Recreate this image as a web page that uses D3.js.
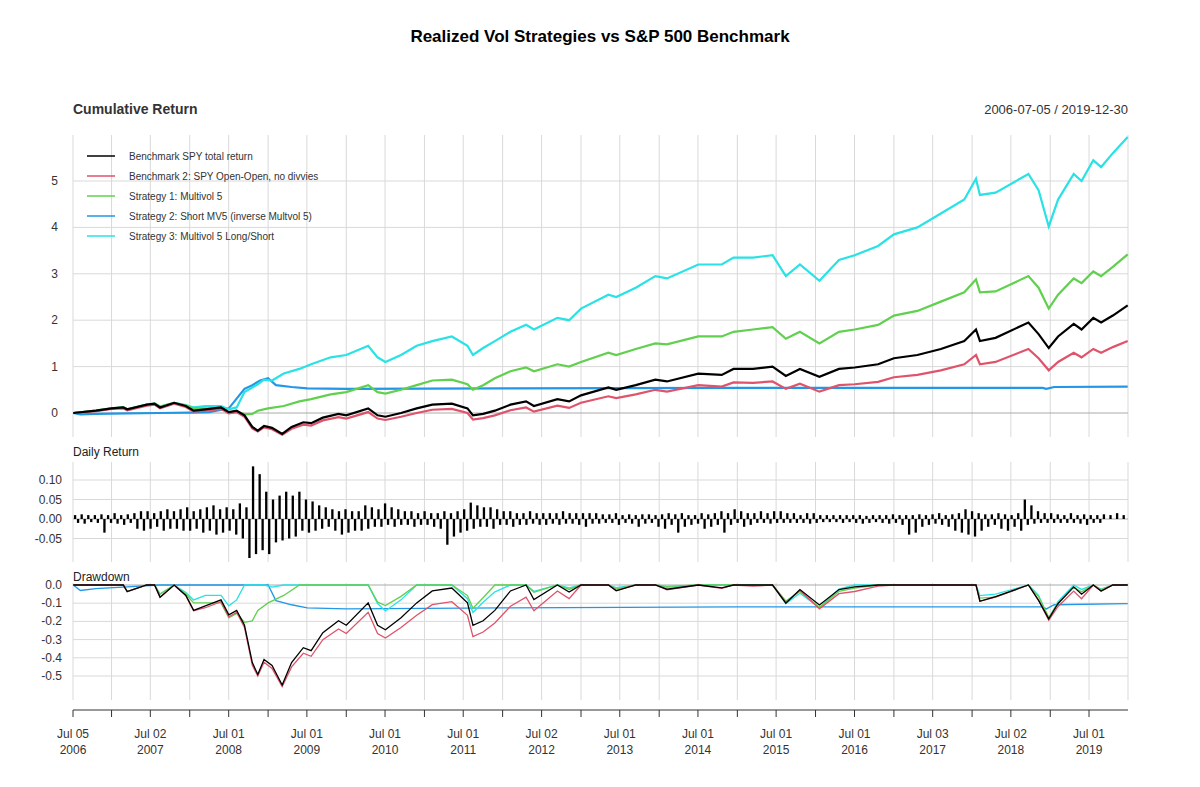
<!DOCTYPE html><html><head><meta charset="utf-8"><script src="https://cdn.jsdelivr.net/npm/d3@7"></script>
<style>body{margin:0;background:#fff}text{font-family:"Liberation Sans",Arial,sans-serif}</style></head><body>
<svg id="c" width="1200" height="787"></svg>
<script>
const seriesNames=["Benchmark SPY total return","Benchmark 2: SPY Open-Open, no divvies","Strategy 1: Multivol 5","Strategy 2: Short MV5 (inverse Multvol 5)","Strategy 3: Multivol 5 Long/Short"];
const colors=["#000000","#DF536B","#61D04F","#2297E6","#28E2E5"];
// cumulative return points [decimal year, value]
const spy=[[2006.51,0],[2006.8,0.05],[2007.0,0.1],[2007.15,0.12],[2007.2,0.08],[2007.45,0.18],[2007.55,0.2],[2007.62,0.12],[2007.8,0.22],[2007.95,0.15],[2008.05,0.05],[2008.2,0.08],[2008.4,0.12],[2008.5,0.02],[2008.6,0.05],[2008.7,-0.05],[2008.8,-0.3],[2008.87,-0.38],[2008.95,-0.28],[2009.05,-0.32],[2009.18,-0.45],[2009.3,-0.3],[2009.45,-0.2],[2009.55,-0.22],[2009.7,-0.1],[2009.9,-0.02],[2010.0,-0.05],[2010.28,0.1],[2010.4,-0.05],[2010.5,-0.08],[2010.7,0.0],[2010.9,0.1],[2011.1,0.18],[2011.35,0.2],[2011.55,0.1],[2011.62,-0.05],[2011.75,-0.02],[2011.9,0.05],[2012.1,0.18],[2012.3,0.25],[2012.4,0.15],[2012.7,0.3],[2012.85,0.25],[2013.0,0.38],[2013.35,0.55],[2013.45,0.5],[2013.7,0.6],[2013.95,0.72],[2014.1,0.68],[2014.5,0.85],[2014.8,0.82],[2014.95,0.95],[2015.2,0.95],[2015.45,1.0],[2015.62,0.8],[2015.8,0.95],[2016.05,0.78],[2016.3,0.95],[2016.5,0.98],[2016.8,1.05],[2017.0,1.18],[2017.3,1.25],[2017.6,1.38],[2017.9,1.55],[2018.05,1.8],[2018.1,1.55],[2018.3,1.62],[2018.72,1.95],[2018.85,1.7],[2018.98,1.4],[2019.1,1.65],[2019.3,1.92],[2019.4,1.8],[2019.55,2.05],[2019.65,1.95],[2019.8,2.1],[2019.99,2.32]];
const spyOO=[[2006.51,0],[2006.8,0.04],[2007.0,0.09],[2007.15,0.1],[2007.2,0.06],[2007.45,0.16],[2007.55,0.18],[2007.62,0.1],[2007.8,0.2],[2007.95,0.13],[2008.05,0.03],[2008.2,0.05],[2008.4,0.09],[2008.5,-0.01],[2008.6,0.02],[2008.7,-0.08],[2008.8,-0.33],[2008.87,-0.4],[2008.95,-0.31],[2009.05,-0.35],[2009.18,-0.47],[2009.3,-0.34],[2009.45,-0.25],[2009.55,-0.27],[2009.7,-0.16],[2009.9,-0.09],[2010.0,-0.12],[2010.28,0.02],[2010.4,-0.12],[2010.5,-0.15],[2010.7,-0.08],[2010.9,0.0],[2011.1,0.07],[2011.35,0.09],[2011.55,0.0],[2011.62,-0.14],[2011.75,-0.11],[2011.9,-0.05],[2012.1,0.06],[2012.3,0.12],[2012.4,0.03],[2012.7,0.16],[2012.85,0.11],[2013.0,0.22],[2013.35,0.36],[2013.45,0.32],[2013.7,0.4],[2013.95,0.5],[2014.1,0.46],[2014.5,0.6],[2014.8,0.57],[2014.95,0.66],[2015.2,0.65],[2015.45,0.68],[2015.62,0.52],[2015.8,0.63],[2016.05,0.46],[2016.3,0.6],[2016.5,0.62],[2016.8,0.67],[2017.0,0.77],[2017.3,0.82],[2017.6,0.92],[2017.9,1.05],[2018.05,1.25],[2018.1,1.05],[2018.3,1.1],[2018.72,1.38],[2018.85,1.18],[2018.98,0.92],[2019.1,1.1],[2019.3,1.3],[2019.4,1.2],[2019.55,1.38],[2019.65,1.3],[2019.8,1.42],[2019.99,1.55]];
const mv5=[[2006.51,0],[2006.8,0.05],[2007.0,0.1],[2007.15,0.12],[2007.2,0.08],[2007.45,0.18],[2007.55,0.2],[2007.62,0.14],[2007.8,0.22],[2007.95,0.16],[2008.05,0.1],[2008.2,0.1],[2008.4,0.1],[2008.5,0.0],[2008.6,0.03],[2008.7,-0.03],[2008.8,-0.02],[2008.87,0.05],[2009.0,0.1],[2009.2,0.15],[2009.4,0.25],[2009.55,0.3],[2009.8,0.4],[2010.0,0.45],[2010.28,0.6],[2010.4,0.45],[2010.5,0.42],[2010.7,0.5],[2010.9,0.6],[2011.1,0.7],[2011.35,0.72],[2011.55,0.62],[2011.62,0.5],[2011.75,0.6],[2011.9,0.75],[2012.1,0.9],[2012.3,0.98],[2012.4,0.9],[2012.7,1.05],[2012.85,1.0],[2013.0,1.1],[2013.35,1.3],[2013.45,1.25],[2013.7,1.38],[2013.95,1.5],[2014.1,1.48],[2014.5,1.65],[2014.8,1.65],[2014.95,1.75],[2015.2,1.8],[2015.45,1.85],[2015.62,1.6],[2015.8,1.75],[2016.05,1.5],[2016.3,1.75],[2016.5,1.8],[2016.8,1.9],[2017.0,2.1],[2017.3,2.2],[2017.6,2.4],[2017.9,2.6],[2018.05,2.88],[2018.1,2.6],[2018.3,2.62],[2018.72,2.95],[2018.85,2.7],[2018.98,2.25],[2019.1,2.55],[2019.3,2.9],[2019.4,2.8],[2019.55,3.05],[2019.65,2.95],[2019.8,3.15],[2019.99,3.42]];
const shortMv5=[[2006.51,0],[2006.6,-0.03],[2006.8,-0.02],[2007.2,-0.01],[2007.6,0.0],[2008.0,0.01],[2008.25,0.02],[2008.5,0.1],[2008.7,0.52],[2008.8,0.6],[2008.9,0.7],[2009.0,0.75],[2009.1,0.6],[2009.3,0.56],[2009.5,0.53],[2010.0,0.52],[2012.0,0.53],[2015.0,0.54],[2018.9,0.54],[2018.95,0.52],[2019.05,0.56],[2019.99,0.57]];
const mv5LS=[[2006.51,0],[2006.8,0.05],[2007.0,0.1],[2007.15,0.12],[2007.2,0.08],[2007.45,0.18],[2007.55,0.2],[2007.62,0.14],[2007.8,0.22],[2007.95,0.17],[2008.05,0.12],[2008.2,0.15],[2008.4,0.15],[2008.5,0.08],[2008.6,0.12],[2008.7,0.45],[2008.8,0.55],[2008.87,0.62],[2008.95,0.72],[2009.05,0.7],[2009.2,0.85],[2009.4,0.95],[2009.55,1.05],[2009.8,1.2],[2010.0,1.25],[2010.28,1.45],[2010.4,1.2],[2010.5,1.1],[2010.7,1.25],[2010.9,1.45],[2011.1,1.55],[2011.35,1.65],[2011.55,1.45],[2011.62,1.25],[2011.75,1.4],[2011.9,1.55],[2012.1,1.75],[2012.3,1.9],[2012.4,1.8],[2012.7,2.05],[2012.85,2.0],[2013.0,2.25],[2013.35,2.55],[2013.45,2.5],[2013.7,2.7],[2013.95,2.95],[2014.1,2.9],[2014.5,3.2],[2014.8,3.2],[2014.95,3.35],[2015.2,3.35],[2015.45,3.4],[2015.62,2.95],[2015.8,3.2],[2016.05,2.85],[2016.3,3.3],[2016.5,3.4],[2016.8,3.6],[2017.0,3.85],[2017.3,4.0],[2017.6,4.3],[2017.9,4.6],[2018.05,5.05],[2018.1,4.7],[2018.3,4.75],[2018.72,5.15],[2018.85,4.8],[2018.98,4.02],[2019.1,4.6],[2019.3,5.15],[2019.4,5.0],[2019.55,5.45],[2019.65,5.3],[2019.8,5.6],[2019.99,5.95]];
const allSeries=[spy,spyOO,mv5,shortMv5,mv5LS];
// monthly daily-return extremes, Jul 2006 .. Dec 2019
const dailyUp=[.01,.012,.01,.01,.012,.01,.015,.01,.012,.015,.02,.02,.015,.02,.025,.02,.025,.03,.02,.025,.03,.035,.025,.03,.025,.04,.03,.135,.115,.07,.05,.06,.07,.06,.07,.05,.045,.035,.03,.025,.02,.025,.02,.02,.035,.03,.025,.04,.03,.025,.02,.02,.015,.02,.015,.015,.02,.015,.02,.025,.042,.035,.03,.03,.025,.02,.02,.015,.015,.02,.015,.015,.015,.015,.02,.015,.015,.015,.015,.015,.012,.012,.015,.01,.012,.01,.012,.012,.01,.012,.015,.012,.015,.01,.01,.015,.012,.015,.02,.015,.025,.02,.015,.015,.02,.015,.02,.02,.015,.015,.01,.015,.015,.01,.01,.01,.01,.01,.01,.01,.008,.01,.01,.01,.012,.01,.01,.01,.012,.01,.012,.015,.01,.012,.015,.025,.02,.015,.012,.012,.015,.012,.01,.015,.05,.035,.02,.015,.015,.012,.01,.015,.01,.012,.01,.01,.012,.01,.015,.01];
const dailyDn=[-.01,-.012,-.008,-.01,-.035,-.01,-.012,-.015,-.01,-.025,-.03,-.025,-.02,-.03,-.025,-.025,-.03,-.03,-.025,-.035,-.03,-.04,-.035,-.03,-.04,-.05,-.1,-.09,-.08,-.09,-.06,-.055,-.05,-.045,-.03,-.035,-.03,-.025,-.02,-.03,-.04,-.035,-.03,-.03,-.025,-.02,-.02,-.015,-.02,-.015,-.015,-.02,-.015,-.015,-.02,-.025,-.066,-.045,-.035,-.03,-.025,-.02,-.02,-.025,-.015,-.015,-.02,-.015,-.015,-.012,-.015,-.015,-.012,-.015,-.012,-.012,-.015,-.02,-.012,-.012,-.01,-.01,-.015,-.01,-.012,-.02,-.012,-.01,-.02,-.025,-.015,-.035,-.02,-.015,-.012,-.025,-.02,-.015,-.035,-.015,-.01,-.02,-.015,-.01,-.01,-.012,-.01,-.01,-.01,-.01,-.01,-.012,-.01,-.008,-.008,-.008,-.01,-.008,-.01,-.012,-.01,-.008,-.01,-.012,-.01,-.015,-.04,-.035,-.02,-.015,-.012,-.015,-.02,-.03,-.035,-.04,-.045,-.03,-.02,-.015,-.025,-.03,-.02,-.03,-.015,-.012,-.01,-.01,-.01,-.01,-.01,-.01,-.012,-.015,-.01,-.01];
const xLabels=[["Jul 05","2006"],["Jul 02","2007"],["Jul 01","2008"],["Jul 01","2009"],["Jul 01","2010"],["Jul 01","2011"],["Jul 02","2012"],["Jul 01","2013"],["Jul 01","2014"],["Jul 01","2015"],["Jul 01","2016"],["Jul 03","2017"],["Jul 02","2018"],["Jul 01","2019"]];

const dy=y=>{const yr=Math.floor(y);return new Date(yr,0,1).getTime()+(y-yr)*365.25*864e5;};
const svg=d3.select("#c");
const x=d3.scaleTime().domain([new Date(2006,6,5),new Date(2019,11,30)]).range([73,1128]);
const panels={main:[135,437],daily:[462,562],dd:[583,700]};
const yM=d3.scaleLinear().domain([0,5]).range([413,181]);
const yD=d3.scaleLinear().domain([0,0.1]).range([519,480]);
const yDD=d3.scaleLinear().domain([0,-0.5]).range([585,676]);
const grid="#d9d9d9";
const ticks=[];for(let yr=2006;yr<=2019;yr++){if(yr>2006)ticks.push(new Date(yr,0,1));ticks.push(yr==2006?new Date(2006,6,5):new Date(yr,6,1));}
function vgrid(p){ticks.concat([new Date(2019,11,30)]).forEach(t=>svg.append("line").attr("x1",x(t)).attr("x2",x(t)).attr("y1",p[0]).attr("y2",p[1]).attr("stroke",grid));}
function hgrid(vals,sc,fmt,lx){vals.forEach(v=>{svg.append("line").attr("x1",73).attr("x2",1128).attr("y1",sc(v)).attr("y2",sc(v)).attr("stroke",v==0?"#aaa":grid);
 svg.append("text").attr("x",lx).attr("y",sc(v)+4).attr("text-anchor","end").attr("font-size",12).attr("fill","#333").text(fmt(v).replace("−","-"));});}
Object.values(panels).forEach(vgrid);
hgrid([0,1,2,3,4,5],yM,d3.format("d"),58);
hgrid([-0.05,0,0.05,0.1],yD,d3.format(".2f"),62);
hgrid([-0.5,-0.4,-0.3,-0.2,-0.1,0],yDD,d3.format(".1f"),62);
svg.append("text").attr("x",600).attr("y",42).attr("text-anchor","middle").attr("font-size",17).attr("font-weight","bold").text("Realized Vol Strategies vs S&P 500 Benchmark");
svg.append("text").attr("x",73).attr("y",114).attr("font-size",14).attr("font-weight","bold").attr("fill","#333").text("Cumulative Return");
svg.append("text").attr("x",1128).attr("y",114).attr("text-anchor","end").attr("font-size",13).attr("fill","#333").text("2006-07-05 / 2019-12-30");
svg.append("text").attr("x",73).attr("y",456).attr("font-size",12).attr("fill","#222").text("Daily Return");
svg.append("text").attr("x",73).attr("y",581).attr("font-size",12).attr("fill","#222").text("Drawdown");
const line=d3.line().x(d=>x(dy(d[0]))).y(d=>yM(d[1]));
[3,4,2,1,0].forEach(i=>svg.append("path").datum(allSeries[i]).attr("d",line).attr("fill","none").attr("stroke",colors[i]).attr("stroke-width",2.2));
const ddLine=d3.line().x(d=>x(dy(d[0]))).y(d=>yDD(d[1]));
[3,4,2,1,0].forEach(i=>{let pk=1;const dd=allSeries[i].map(d=>{const w=1+d[1];pk=Math.max(pk,w);return [d[0],w/pk-1];});
 svg.append("path").datum(dd).attr("d",ddLine).attr("fill","none").attr("stroke",colors[i]).attr("stroke-width",1.3);});
const bw=1055/dailyUp.length;
dailyUp.forEach((v,k)=>{const t=2006.51+(k+0.5)*(13.49/dailyUp.length);const cx=x(dy(t));
 svg.append("rect").attr("x",cx-bw*0.4).attr("width",bw*0.35).attr("y",yD(v)).attr("height",yD(0)-yD(v)).attr("fill","#000");
 const n=dailyDn[k];svg.append("rect").attr("x",cx+bw*0.05).attr("width",bw*0.35).attr("y",yD(0)).attr("height",yD(n)-yD(0)).attr("fill","#000");});
seriesNames.forEach((n,i)=>{const yy=156+i*20;svg.append("line").attr("x1",87).attr("x2",115).attr("y1",yy).attr("y2",yy).attr("stroke",colors[i]).attr("stroke-width",1.5);
 svg.append("text").attr("x",129).attr("y",yy+4).attr("font-size",10).attr("fill","#333").text(n);});
svg.append("line").attr("x1",73).attr("x2",1128).attr("y1",710).attr("y2",710).attr("stroke","#333");
ticks.forEach(t=>svg.append("line").attr("x1",x(t)).attr("x2",x(t)).attr("y1",710).attr("y2",717).attr("stroke","#333"));
xLabels.forEach((l,i)=>{const t=i==0?new Date(2006,6,5):new Date(2006+i,6,1);
 l.forEach((s,j)=>svg.append("text").attr("x",x(t)).attr("y",738+j*16).attr("text-anchor","middle").attr("font-size",12).attr("fill","#333").text(s));});
</script></body></html>
